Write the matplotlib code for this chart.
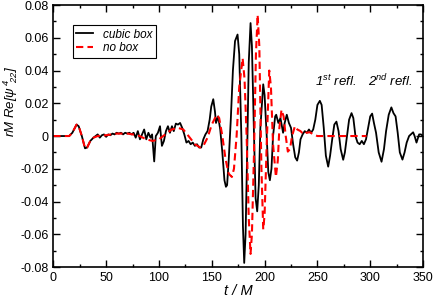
import matplotlib
matplotlib.use('Agg')
import matplotlib.pyplot as plt
from matplotlib.ticker import MultipleLocator, FuncFormatter

plt.rcParams['font.family'] = ['Liberation Sans', 'DejaVu Sans']
plt.rcParams['mathtext.fontset'] = 'custom'
plt.rcParams['mathtext.it'] = 'Liberation Sans:italic'
plt.rcParams['mathtext.rm'] = 'Liberation Sans:italic'
plt.rcParams['mathtext.default'] = 'it'

# cubic box (black solid)
t_cubic = [0, 15, 18, 22, 24, 27, 30, 32, 35, 38, 40, 42, 44, 46, 48, 50, 52, 54, 56, 58,
           60, 62, 64, 66, 68, 70, 72, 74, 76, 78, 80, 82, 84, 86, 88, 90, 92, 93.5, 95.5, 97,
           99, 101, 102.8, 104.7, 106.6, 108.5, 110.4, 112.3, 114, 116, 118, 120, 122, 124, 126, 128, 130, 132, 134, 136,
           138, 140, 142, 144, 146, 148, 149.5, 151.4, 153, 154, 156, 158, 160, 162, 163.4, 164.5, 166, 168, 170, 172,
           174.4, 176, 178, 179.5, 180.7, 182, 183.5, 185, 186.7, 188, 190, 191.5, 193, 194.5, 196, 198.7, 200, 202, 203.5, 205,
           206.5, 208, 210, 211, 213, 215, 217.5, 219, 221, 223, 225, 227, 229, 230.8, 232.5, 234, 236, 238, 240, 242,
           244, 246, 248, 250, 252.3, 254, 256, 258, 260.2, 262, 264, 266, 268, 270, 272, 274.4, 276, 278, 280, 282.3,
           284, 286, 288, 290, 292, 294, 296, 298, 300, 301.8, 303.5, 305.5, 308, 310.7, 313, 315, 317.5, 320, 322, 324,
           326, 328, 330.5, 332.5, 334.5, 336.8, 338.5, 340.6, 342, 343.8, 346.3, 348, 350]
psi_cubic = [0, 0, 0.002, 0.007, 0.006, 0, -0.0075, -0.007, -0.003, -0.001, 0.0, 0.001, -0.001, 0.0005, 0.001, -0.0005, 0.001, 0.0005, 0.0015, 0.001,
             0.002, 0.0015, 0.002, 0.001, 0.002, 0.0015, 0.002, 0.001, 0.002, -0.001, 0.003, -0.002, 0.001, 0.004, -0.002, 0.002, -0.001, 0.001, -0.0155, 0.0,
             0.002, 0.006, -0.006, -0.003, 0.003, 0.006, 0.002, 0.006, 0.003, 0.0076, 0.007, 0.008, 0.005, 0.001, -0.004, -0.003, -0.005, -0.004, -0.006, -0.005,
             -0.007, -0.007, -0.002, 0.001, 0.003, 0.010, 0.018, 0.0225, 0.015, 0.008, 0.012, 0.004, -0.010, -0.027, -0.031, -0.030, -0.015, 0.010, 0.040, 0.058,
             0.062, 0.050, 0.000, -0.055, -0.0775, -0.060, -0.010, 0.045, 0.069, 0.055, 0.000, -0.038, -0.046, -0.030, 0.005, 0.0316, 0.025, 0.000, -0.022, -0.027,
             -0.020, 0.000, 0.012, 0.013, 0.008, 0.011, 0.002, 0.008, 0.013, 0.008, 0.005, -0.005, -0.013, -0.015, -0.010, -0.002, 0.001, 0.003, 0.002, 0.004,
             0.002, 0.004, 0.010, 0.019, 0.0215, 0.019, 0.005, -0.012, -0.0187, -0.012, -0.002, 0.007, 0.0088, 0.003, -0.008, -0.0145, -0.010, 0.000, 0.010, 0.014,
             0.011, 0.000, -0.004, -0.005, -0.003, -0.005, -0.002, 0.005, 0.012, 0.0137, 0.008, 0.002, -0.010, -0.0157, -0.008, 0.003, 0.013, 0.0175, 0.014, 0.012,
             0.002, -0.010, -0.0144, -0.010, -0.004, 0.000, 0.001, 0.0023, 0.000, -0.004, 0.001, 0.001, 0.000]

# no box (red dashed)
t_nobox = [0, 15, 18, 22, 24, 27, 30, 32, 35, 38, 42, 50, 60, 70, 80, 88, 94, 100, 106, 112,
           118, 123, 128, 134, 139, 142, 146, 150, 154.6, 157, 160, 163, 166, 169, 171, 173.5, 176, 179.2, 181, 183,
           185, 186.7, 188, 190, 191.8, 193.4, 195, 197, 198.7, 200, 202, 204.4, 206, 208, 210.7, 212.5, 214, 216, 218, 220,
           222, 224, 226, 228.7, 231, 234, 237, 239, 243, 246, 250, 260, 270, 280, 290, 296.5]
psi_nobox = [0, 0, 0.002, 0.007, 0.006, 0, -0.0075, -0.007, -0.003, -0.001, 0, 0.0005, 0.0015, 0.0015, 0.0005, -0.002, -0.003, -0.002, 0.001, 0.004,
             0.005, 0.004, 0, -0.005, -0.007, -0.006, -0.001, 0.007, 0.013, 0.011, 0.000, -0.014, -0.023, -0.025, -0.020, 0.000, 0.030, 0.0475, 0.035, 0.000,
             -0.050, -0.072, -0.060, -0.010, 0.050, 0.074, 0.055, -0.020, -0.057, -0.048, -0.005, 0.040, 0.030, -0.005, -0.025, -0.015, 0.005, 0.016, 0.012, 0.000,
             -0.0095, -0.008, 0.000, 0.006, 0.004, 0.003, 0.001, 0.002, 0.0023, 0.001, 0.000, 0.000, 0.000, 0.000, 0.000, 0.000]

fig = plt.figure(figsize=(4.36, 2.98), dpi=100)
ax = fig.add_axes([0.1223, 0.104, 0.848, 0.879])

ax.plot(t_cubic, psi_cubic, color='black', lw=1.3, label='cubic box')
ax.plot(t_nobox, psi_nobox, color='red', lw=1.5, ls=(0, (3.5, 2)), label='no box')

ax.set_xlim(0, 350)
ax.set_ylim(-0.08, 0.08)
ax.xaxis.set_major_locator(MultipleLocator(50))
ax.xaxis.set_minor_locator(MultipleLocator(25))
ax.yaxis.set_major_locator(MultipleLocator(0.02))
ax.yaxis.set_minor_locator(MultipleLocator(0.01))
ax.yaxis.set_major_formatter(FuncFormatter(lambda v, p: '0' if abs(v) < 1e-9 else '%.2f' % v))
ax.tick_params(which='both', direction='in', top=True, right=True, labelsize=9, width=1)
ax.tick_params(which='major', length=5)
ax.tick_params(which='minor', length=2.5)
for s in ax.spines.values():
    s.set_linewidth(1.2)

ax.set_xlabel('t / M', fontsize=10.5, style='italic', labelpad=0)
ax.set_ylabel(r'rM Re[$\psi^{\,4}_{\ \ 22}$]', fontsize=9.5, style='italic')
ax.yaxis.set_label_coords(-0.09, 0.634)

ax.text(247.5, 0.0305, r'$1^{st}$ refl.', fontsize=9.5, style='italic')
ax.text(298, 0.0305, r'$2^{nd}$ refl.', fontsize=9.5, style='italic')

leg = ax.legend(loc='upper left', bbox_to_anchor=(0.052, 0.924), borderaxespad=0,
                fancybox=False, edgecolor='black', framealpha=1,
                handlelength=1.4, handletextpad=0.9, borderpad=0.3, labelspacing=0.15,
                prop={'style': 'italic', 'size': 8.5})
leg.get_frame().set_linewidth(0.8)

fig.savefig('out.png', dpi=100)
